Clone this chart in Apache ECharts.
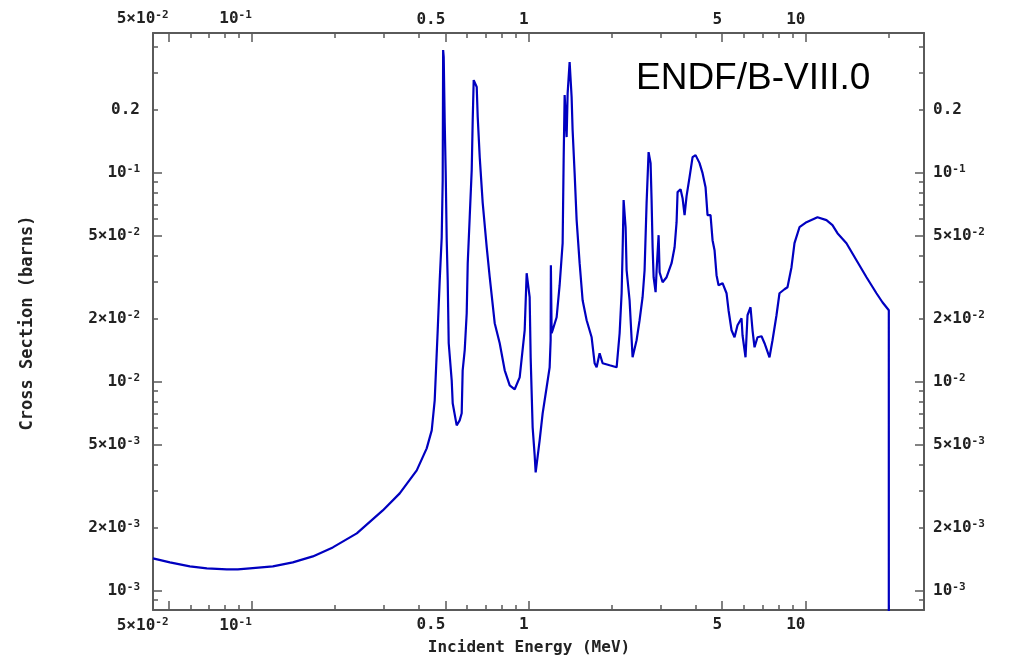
<!DOCTYPE html>
<html>
<head>
<meta charset="utf-8">
<script src="https://cdn.jsdelivr.net/npm/echarts@6/dist/echarts.min.js"></script>
<style>
  html, body { margin: 0; padding: 0; background: #fff; }
  #main { width: 1013px; height: 659px; }
</style>
</head>
<body>
<div id="main"></div>
<script>
// incident energy (MeV) and cross section (barns)
const energy = [
  0.04393, 0.05058, 0.05972, 0.06879, 0.08124, 0.08901, 0.09835, 0.1191, 0.1406, 0.1661,
  0.1961, 0.2394, 0.2972, 0.3421, 0.3942, 0.4282, 0.4465, 0.4577, 0.4693, 0.4772,
  0.4852, 0.4892, 0.491, 0.4933, 0.4975, 0.5016, 0.5058, 0.5100, 0.5143, 0.5272,
  0.5316, 0.5495, 0.5634, 0.5729, 0.5776, 0.5875, 0.5973, 0.6024, 0.6124, 0.6227,
  0.6279, 0.6331, 0.6492, 0.6546, 0.6656, 0.6824, 0.7054, 0.7233, 0.7540, 0.7860,
  0.8194, 0.8541, 0.8904, 0.9280, 0.9674, 0.9835, 1.0083, 1.0167, 1.0337, 1.0512,
  1.0600, 1.0957, 1.1234, 1.1614, 1.1907, 1.2006, 1.203, 1.2106, 1.2207, 1.2620,
  1.2938, 1.3266, 1.3377, 1.3490, 1.3715, 1.3830, 1.4060, 1.4295, 1.4414, 1.4657,
  1.4904, 1.5280, 1.5665, 1.6197, 1.6885, 1.7312, 1.7602, 1.8045, 1.8500, 1.9610,
  2.0785, 2.1310, 2.1667, 2.1850, 2.2029, 2.2397, 2.2584, 2.3151, 2.3737, 2.4538,
  2.5158, 2.5795, 2.6228, 2.6669, 2.7116, 2.7571, 2.7801, 2.8039, 2.8273, 2.8746,
  2.8986, 2.9471, 2.9717, 3.0469, 3.1497, 3.2830, 3.3663, 3.4226, 3.4511, 3.5378,
  3.5975, 3.6578, 3.7190, 3.8127, 3.9094, 4.0081, 4.1432, 4.2481, 4.3551, 4.4280,
  4.5394, 4.6161, 4.6933, 4.7720, 4.8520, 5.0165, 5.1858, 5.2728, 5.4062, 5.5424,
  5.6820, 5.8749, 5.9238, 6.0730, 6.1748, 6.3304, 6.4375, 6.5454, 6.7103, 6.9378,
  7.1128, 7.4131, 7.6012, 7.8573, 8.0553, 8.3975, 8.6099, 8.9020, 9.1265, 9.5130,
  10.083, 11.049, 11.906, 12.516, 13.047, 14.060, 15.280, 16.612, 18.046, 18.967,
  20.0, 20.0
];
const sigma = [
  1.424e-3, 1.363e-3, 1.304e-3, 1.276e-3, 1.262e-3, 1.262e-3, 1.276e-3, 1.304e-3, 1.363e-3, 1.456e-3,
  1.608e-3, 1.877e-3, 2.416e-3, 2.916e-3, 3.757e-3, 4.788e-3, 5.838e-3, 8.128e-3, 1.758e-2, 3.050e-2,
  4.900e-2, 9.187e-2, 0.3849, 0.3564, 0.1722, 0.0992, 4.741e-2, 3.050e-2, 1.524e-2, 1.013e-2,
  7.863e-3, 6.169e-3, 6.519e-3, 7.042e-3, 1.131e-2, 1.411e-2, 2.121e-2, 3.680e-2, 6.109e-2, 0.1026,
  0.1780, 0.2765, 0.2561, 0.1839, 0.1184, 7.129e-2, 4.388e-2, 3.153e-2, 1.900e-2, 1.524e-2,
  1.131e-2, 9.590e-3, 9.178e-3, 1.047e-2, 1.758e-2, 3.296e-2, 2.530e-2, 1.305e-2, 6.035e-3, 4.432e-3,
  3.675e-3, 5.230e-3, 7.042e-3, 9.381e-3, 1.169e-2, 1.575e-2, 3.600e-2, 1.701e-2, 1.758e-2, 2.029e-2,
  2.887e-2, 4.587e-2, 0.1145, 0.2344, 0.1476, 0.2396, 0.3373, 0.2294, 0.1594, 0.0992,
  5.911e-2, 3.680e-2, 2.447e-2, 1.963e-2, 1.627e-2, 1.222e-2, 1.169e-2, 1.365e-2, 1.222e-2, 1.195e-2,
  1.169e-2, 1.701e-2, 2.643e-2, 4.246e-2, 7.370e-2, 5.470e-2, 3.406e-2, 2.447e-2, 1.305e-2, 1.575e-2,
  1.963e-2, 2.530e-2, 3.406e-2, 7.129e-2, 0.1251, 0.1108, 7.370e-2, 4.388e-2, 3.153e-2, 2.673e-2,
  3.406e-2, 5.010e-2, 3.332e-2, 2.985e-2, 3.153e-2, 3.680e-2, 4.388e-2, 5.782e-2, 8.049e-2, 8.318e-2,
  7.534e-2, 6.246e-2, 7.701e-2, 9.495e-2, 0.1184, 0.1210, 0.1108, 0.0992, 8.502e-2, 6.246e-2,
  6.246e-2, 4.741e-2, 4.246e-2, 3.224e-2, 2.887e-2, 2.952e-2, 2.643e-2, 2.192e-2, 1.758e-2, 1.627e-2,
  1.858e-2, 2.007e-2, 1.664e-2, 1.305e-2, 2.074e-2, 2.265e-2, 1.758e-2, 1.458e-2, 1.627e-2, 1.646e-2,
  1.524e-2, 1.305e-2, 1.575e-2, 2.074e-2, 2.643e-2, 2.762e-2, 2.824e-2, 3.521e-2, 4.587e-2, 5.470e-2,
  5.782e-2, 6.109e-2, 5.911e-2, 5.595e-2, 5.122e-2, 4.587e-2, 3.803e-2, 3.153e-2, 2.643e-2, 2.393e-2,
  2.192e-2, 1e-6
];

// tick values and labels
const xLabelValues = [0.05, 0.1, 0.5, 1, 5, 10];
const xLabels = ['5×10{s|-2}', '10{s|-1}', '0.5', '1', '5', '10'];
const xMinorTicks = [0.06, 0.07, 0.08, 0.09, 0.2, 0.3, 0.4, 0.6, 0.7, 0.8, 0.9, 2, 3, 4, 6, 7, 8, 9, 20];
const yLabelValues = [0.2, 0.1, 0.05, 0.02, 0.01, 0.005, 0.002, 0.001];
const yLabels = ['0.2', '10{s|-1}', '5×10{s|-2}', '2×10{s|-2}', '10{s|-2}', '5×10{s|-3}', '2×10{s|-3}', '10{s|-3}'];
const yMajorTicks = [0.1, 0.05, 0.01, 0.005, 0.001];
const yMinorTicks = [0.4, 0.3, 0.2, 0.09, 0.08, 0.07, 0.06, 0.04, 0.03, 0.02,
  0.009, 0.008, 0.007, 0.006, 0.004, 0.003, 0.002, 0.0009];

const xMin = 0.04395, xMax = 26.8;
const yMin = 8.07e-4, yMax = 0.4645;

const axisColor = '#5a5a5a';
const monoFont = '"DejaVu Sans Mono", "Liberation Mono", monospace';

function labelFor(values, labels) {
  return function (v) {
    for (let i = 0; i < values.length; i++) {
      if (Math.abs(Math.log10(v) - Math.log10(values[i])) < 1e-4) return labels[i];
    }
    return '';
  };
}

const richLabel = {
  s: { fontSize: 11, fontFamily: monoFont, fontWeight: 'bold', color: '#222', verticalAlign: 'top', padding: [0, 0, 7, 0] }
};

function xAxisMajor(pos, margin) {
  return {
    type: 'log', position: pos, min: xMin, max: xMax,
    axisLine: { show: true, lineStyle: { color: axisColor, width: 2 } },
    axisTick: { show: true, inside: true, length: 9, customValues: xLabelValues, lineStyle: { color: axisColor, width: 1.5 } },
    minorTick: { show: false },
    splitLine: { show: false },
    axisLabel: {
      show: true, customValues: xLabelValues, formatter: labelFor(xLabelValues, xLabels),
      margin: margin, align: 'right', fontSize: 16, fontWeight: 'bold', fontFamily: monoFont, color: '#222', rich: richLabel
    }
  };
}
function xAxisMinor(pos) {
  return {
    type: 'log', position: pos, min: xMin, max: xMax,
    axisLine: { show: false },
    axisTick: { show: true, inside: true, length: 5, customValues: xMinorTicks, lineStyle: { color: axisColor, width: 1.5 } },
    splitLine: { show: false },
    axisLabel: { show: false }
  };
}
function yAxisMajor(pos, margin) {
  return {
    type: 'log', position: pos, min: yMin, max: yMax,
    axisLine: { show: true, lineStyle: { color: axisColor, width: 2 } },
    axisTick: { show: true, inside: true, length: 9, customValues: yMajorTicks, lineStyle: { color: axisColor, width: 1.5 } },
    splitLine: { show: false },
    axisLabel: {
      show: true, customValues: yLabelValues, formatter: labelFor(yLabelValues, yLabels),
      margin: margin, fontSize: 16, fontWeight: 'bold', fontFamily: monoFont, color: '#222', rich: richLabel
    }
  };
}
function yAxisMinor(pos) {
  return {
    type: 'log', position: pos, min: yMin, max: yMax,
    axisLine: { show: false },
    axisTick: { show: true, inside: true, length: 5, customValues: yMinorTicks, lineStyle: { color: axisColor, width: 1.5 } },
    splitLine: { show: false },
    axisLabel: { show: false }
  };
}

const points = [];
for (let i = 0; i < energy.length; i++) points.push([energy[i], sigma[i]]);

const chart = echarts.init(document.getElementById('main'), null, { renderer: 'canvas' });
const option = {
  animation: false,
  backgroundColor: '#fff',
  grid: { left: 153, right: 89, top: 33, bottom: 49, containLabel: false },
  xAxis: [
    xAxisMajor('bottom', 7),
    xAxisMinor('bottom'),
    xAxisMajor('top', 5),
    xAxisMinor('top')
  ],
  yAxis: [
    yAxisMajor('left', 13),
    yAxisMinor('left'),
    yAxisMajor('right', 9),
    yAxisMinor('right')
  ],
  graphic: [
    {
      type: 'text', left: 636, top: 60,
      style: { text: 'ENDF/B-VIII.0', font: '37px "Liberation Sans", Arial, sans-serif', fill: '#000' }
    },
    {
      type: 'text', x: 529, y: 648,
      style: { text: 'Incident Energy (MeV)', font: 'bold 16px ' + monoFont, fill: '#222', align: 'center', verticalAlign: 'middle' }
    },
    {
      type: 'text', x: 28, y: 323, rotation: Math.PI / 2,
      style: { text: 'Cross Section (barns)', font: 'bold 17px ' + monoFont, fill: '#222', align: 'center', verticalAlign: 'middle' }
    }
  ],
  series: [
    {
      type: 'line',
      data: points,
      xAxisIndex: 0,
      yAxisIndex: 0,
      showSymbol: false,
      clip: true,
      lineStyle: { color: '#0000c0', width: 2.2 }
    }
  ]
};
chart.setOption(option);
</script>
</body>
</html>
